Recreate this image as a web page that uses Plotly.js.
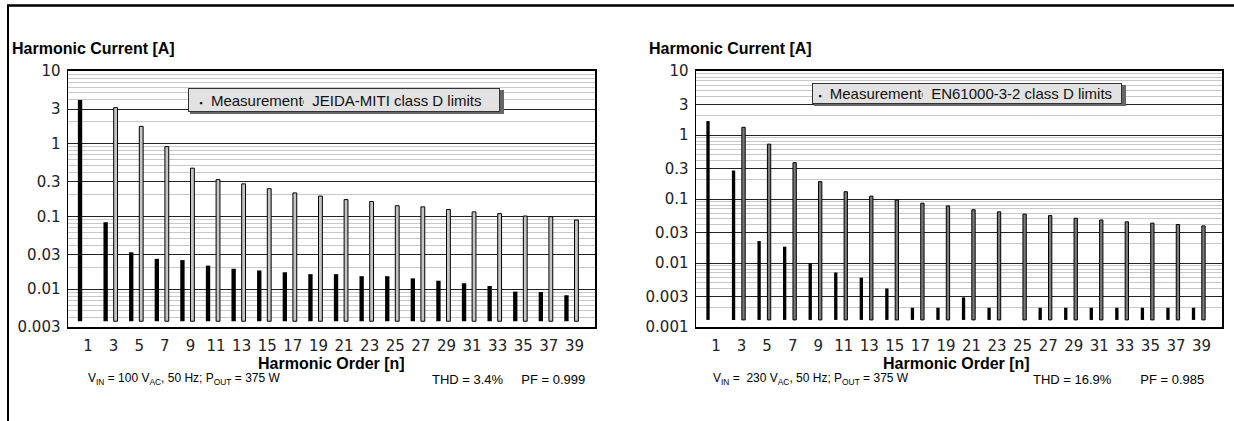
<!DOCTYPE html>
<html>
<head>
<meta charset="utf-8">
<script src="https://cdn.plot.ly/plotly-3.0.1.min.js"></script>
<style>html,body{margin:0;padding:0;background:#fff;}#chart{width:1234px;height:421px;}</style>
</head>
<body>
<div id="chart"></div>
<script>
// ---- data ----
const harmonics = [1,3,5,7,9,11,13,15,17,19,21,23,25,27,29,31,33,35,37,39];
const tickLabelsX = ["1","3","5","7","9","11","13","15","17","19","21","23","25","27","29","31","33","35","37","39"];

// Left chart: 100 VAC, JEIDA-MITI class D
const jeidaMeasurement = [4.0,0.083,0.032,0.026,0.025,0.021,0.019,0.018,0.017,0.016,0.016,0.015,0.015,0.014,0.013,0.012,0.011,0.0092,0.0091,0.0082];
const jeidaLimits = [null,3.13,1.73,0.91,0.46,0.32,0.28,0.24,0.21,0.19,0.17,0.16,0.14,0.135,0.124,0.115,0.109,0.101,0.099,0.089];
const leftTickVals = [0.003,0.01,0.03,0.1,0.3,1,3,10];
const leftTickText = ["0.003","0.01","0.03","0.1","0.3","1","3","10"];

// Right chart: 230 VAC, EN61000-3-2 class D
const enMeasurement = [1.65,0.28,0.022,0.018,0.010,0.0071,0.0059,0.0040,0.0020,0.0020,0.0029,0.0020,null,0.0020,0.0020,0.0020,0.0020,0.0020,0.0020,0.0020];
const enLimits = [null,1.32,0.72,0.37,0.187,0.130,0.111,0.096,0.086,0.078,0.068,0.063,0.058,0.055,0.050,0.047,0.044,0.042,0.040,0.038];
const rightTickVals = [0.001,0.003,0.01,0.03,0.1,0.3,1,3,10];
const rightTickText = ["0.001","0.003","0.01","0.03","0.1","0.3","1","3","10"];

// ---- layout helpers ----
const W = 1234, H = 421;
const px = x => x / W;
const py = y => 1 - y / H;

const LEFT_BASE = 0.0036, RIGHT_BASE = 0.00129;
const rel = (arr, b) => arr.map(v => v == null ? null : v - b);

const traces = [
  {type:'bar', x:harmonics, y:rel(jeidaMeasurement, LEFT_BASE), base:LEFT_BASE, width:0.34, offset:-0.56,
   marker:{color:'#000', line:{width:0}}, xaxis:'x', yaxis:'y', name:'Measurement', showlegend:false, hoverinfo:'skip'},
  {type:'bar', x:harmonics, y:rel(jeidaLimits, LEFT_BASE), base:LEFT_BASE, width:0.30, offset:0.24,
   marker:{color:'#c4c4c4', line:{width:1, color:'#000'}}, xaxis:'x', yaxis:'y', name:'JEIDA-MITI class D limits', showlegend:false, hoverinfo:'skip'},
  {type:'bar', x:harmonics, y:rel(enMeasurement, RIGHT_BASE), base:RIGHT_BASE, width:0.26, offset:-0.52,
   marker:{color:'#000', line:{width:0}}, xaxis:'x2', yaxis:'y2', name:'Measurement', showlegend:false, hoverinfo:'skip'},
  {type:'bar', x:harmonics, y:rel(enLimits, RIGHT_BASE), base:RIGHT_BASE, width:0.26, offset:0.26,
   marker:{color:'#7a7a7a', line:{width:1, color:'#000'}}, xaxis:'x2', yaxis:'y2', name:'EN61000-3-2 class D limits', showlegend:false, hoverinfo:'skip'}
];

const tickFont = {family:'"DejaVu Sans", sans-serif', size:15, color:'#222'};
const xCommon = {
  type:'linear', range:[-0.33, 40.84], tickmode:'array', tickvals:harmonics, ticktext:tickLabelsX,
  showgrid:false, zeroline:false, showline:true, linecolor:'#000', linewidth:2, mirror:true,
  ticks:'outside', ticklen:4, tickcolor:'rgba(0,0,0,0)', tickfont:tickFont, ticklabelshift:3, fixedrange:true
};
const yCommon = {
  type:'log', tickmode:'array', showgrid:true, gridcolor:'#222', gridwidth:1,
  zeroline:false, showline:true, linecolor:'#000', linewidth:1.5, mirror:true,
  ticks:'outside', ticklen:3, tickcolor:'rgba(0,0,0,0)', tickfont:tickFont,
  minor:{dtick:'D1', showgrid:true, gridcolor:'#c8c8c8', gridwidth:1, ticks:''}, fixedrange:true
};

const boldFont = {family:'"Liberation Sans", Arial, sans-serif', size:16, color:'#000'};
const noteFont = {family:'"Liberation Sans", Arial, sans-serif', size:12, color:'#000'};
const noteFont2 = {family:'"Liberation Sans", Arial, sans-serif', size:13, color:'#000'};
const legFont = {family:'"Liberation Sans", Arial, sans-serif', size:15, color:'#111'};

function ann(text, x, y, font, xanchor, yanchor, extra) {
  return Object.assign({text, x:px(x), y:py(y), xref:'paper', yref:'paper', showarrow:false,
    font, xanchor:xanchor||'left', yanchor:yanchor||'middle'}, extra||{});
}

const annotations = [
  ann('<b>Harmonic Current [A]</b>', 10, 49, boldFont),
  ann('<b>Harmonic Current [A]</b>', 647, 49, boldFont),
  ann('<b>Harmonic Order [n]</b>', 331, 363, boldFont, 'center'),
  ann('<b>Harmonic Order [n]</b>', 956, 363, boldFont, 'center'),
  ann('V<sub>IN</sub> = 100 V<sub>AC</sub>, 50 Hz; P<sub>OUT</sub> = 375 W', 86, 379, noteFont),
  ann('THD = 3.4%&nbsp;&nbsp;&nbsp;&nbsp;&nbsp;PF = 0.999', 430, 379, noteFont2),
  ann('V<sub>IN</sub> =&nbsp;&nbsp;230 V<sub>AC</sub>, 50 Hz; P<sub>OUT</sub> = 375 W', 711, 379, noteFont),
  ann('THD = 16.9%&nbsp;&nbsp;&nbsp;&nbsp;&nbsp;&nbsp;&nbsp;&nbsp;PF = 0.985', 1031, 379, noteFont2),
  ann('&nbsp;&nbsp;<span style="font-size:9px">▪</span>&nbsp;&nbsp;Measurement<span style="font-size:9px">ᶦ</span>&nbsp;&nbsp;JEIDA-MITI class D limits', 188, 88, legFont, 'left', 'top',
      {bgcolor:'#e2e2e2', bordercolor:'#333', borderwidth:1, borderpad:2, width:306, height:18, align:'left', valign:'middle'}),
  ann('&nbsp;<span style="font-size:9px">▪</span>&nbsp;&nbsp;Measurement<span style="font-size:9px">ᶦ</span>&nbsp;&nbsp;EN61000-3-2 class D limits', 812, 83, legFont, 'left', 'top',
      {bgcolor:'#e2e2e2', bordercolor:'#333', borderwidth:1, borderpad:1, width:306, height:17, align:'left', valign:'middle'})
];

const shapes = [
  {type:'line', xref:'paper', yref:'paper', x0:px(7), x1:1, y0:py(5.5), y1:py(5.5), line:{color:'#000', width:2.5}},
  {type:'line', xref:'paper', yref:'paper', x0:px(8), x1:px(8), y0:py(5), y1:0, line:{color:'#000', width:2}},
  // legend box shadows
  {type:'rect', xref:'paper', yref:'paper', x0:px(190), x1:px(504), y0:py(90), y1:py(114), fillcolor:'#666', line:{width:0}, layer:'above'},
  {type:'rect', xref:'paper', yref:'paper', x0:px(814), x1:px(1126), y0:py(85), y1:py(106), fillcolor:'#666', line:{width:0}, layer:'above'}
];

const layout = {
  width:W, height:H, margin:{l:0, r:0, t:0, b:0}, paper_bgcolor:'#fff', plot_bgcolor:'#fff',
  showlegend:false, barmode:'overlay',
  xaxis:Object.assign({}, xCommon, {domain:[px(68), px(595)], anchor:'y'}),
  yaxis:Object.assign({}, yCommon, {domain:[py(327), py(71)], anchor:'x',
    range:[Math.log10(0.003), 1], tickvals:leftTickVals, ticktext:leftTickText}),
  xaxis2:Object.assign({}, xCommon, {domain:[px(696), px(1222)], anchor:'y2'}),
  yaxis2:Object.assign({}, yCommon, {domain:[py(327), py(71)], anchor:'x2',
    range:[-3, 1], tickvals:rightTickVals, ticktext:rightTickText}),
  annotations, shapes
};

Plotly.newPlot('chart', traces, layout, {displayModeBar:false, staticPlot:true});
</script>
</body>
</html>
